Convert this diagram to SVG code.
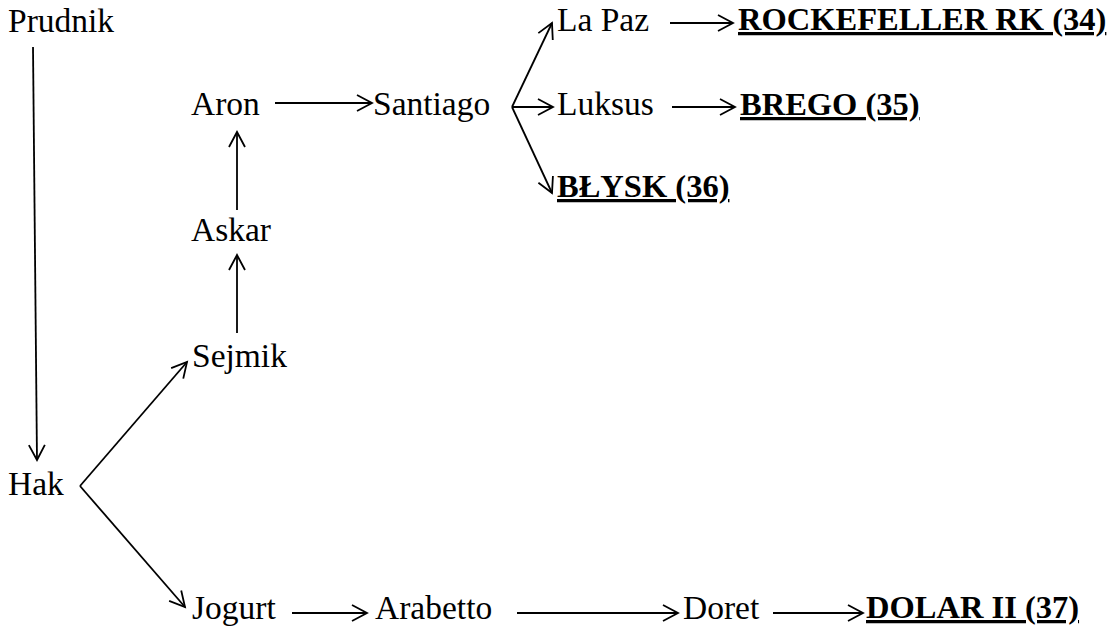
<svg xmlns="http://www.w3.org/2000/svg" width="1113" height="631" viewBox="0 0 1113 631">
<style>
  .t { font-family: 'Liberation Serif', 'Times New Roman', 'DejaVu Serif', serif; font-size: 33.5px; fill: #000; }
  .b { font-weight: bold; font-size: 32.5px; text-decoration: underline; }
  .c line { stroke: #000; stroke-width: 1.8; fill: none; marker-end: url(#ah); }
</style>
<defs>
  <marker id="ah" markerUnits="userSpaceOnUse" markerWidth="20" markerHeight="20" viewBox="-16 -10 20 20" refX="0" refY="0" orient="auto">
    <path d="M-15,-8 L0,0 L-15,8" fill="none" stroke="#000" stroke-width="1.8" stroke-linejoin="miter"/>
  </marker>
</defs>
<rect width="1113" height="631" fill="#fff"/>
<g id="connectors" class="c">
  <line x1="33" y1="47" x2="37" y2="460"/>
  <line x1="80" y1="486" x2="187" y2="362"/>
  <line x1="80" y1="486" x2="185" y2="607"/>
  <line x1="237" y1="333" x2="237" y2="255"/>
  <line x1="237" y1="210" x2="237" y2="132"/>
  <line x1="275" y1="103" x2="372" y2="103"/>
  <line x1="512" y1="107" x2="552" y2="23"/>
  <line x1="512" y1="107" x2="553" y2="107"/>
  <line x1="512" y1="107" x2="552" y2="193"/>
  <line x1="670" y1="23" x2="733" y2="23"/>
  <line x1="672" y1="107" x2="735" y2="107"/>
  <line x1="292" y1="613" x2="367" y2="613"/>
  <line x1="517" y1="613" x2="678" y2="613"/>
  <line x1="773" y1="613" x2="863" y2="613"/>
</g>
<g font-family="Liberation Serif, Times New Roman, serif">
<g id="n-prudnik"><text class="t" x="8" y="32">Prudnik</text></g>
<g id="n-aron"><text class="t" x="191" y="115">Aron</text></g>
<g id="n-santiago"><text class="t" x="373" y="115">Santiago</text></g>
<g id="n-lapaz"><text class="t" x="557" y="31">La Paz</text></g>
<g id="n-luksus"><text class="t" x="557" y="115">Luksus</text></g>
<g id="n-blysk"><text class="t b" x="557" y="197">BŁYSK (36)</text></g>
<g id="n-rockefeller"><text class="t b" x="738" y="30">ROCKEFELLER RK (34)</text></g>
<g id="n-brego"><text class="t b" x="740" y="115">BREGO (35)</text></g>
<g id="n-askar"><text class="t" x="191" y="241">Askar</text></g>
<g id="n-sejmik"><text class="t" x="192" y="367">Sejmik</text></g>
<g id="n-hak"><text class="t" x="8" y="495">Hak</text></g>
<g id="n-jogurt"><text class="t" x="192" y="619">Jogurt</text></g>
<g id="n-arabetto"><text class="t" x="375" y="619">Arabetto</text></g>
<g id="n-doret"><text class="t" x="683" y="619">Doret</text></g>
<g id="n-dolar"><text class="t b" x="866" y="618">DOLAR II (37)</text></g>
</g>
</svg>
